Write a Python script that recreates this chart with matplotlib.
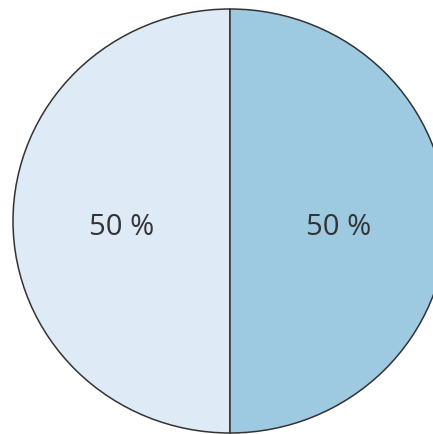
import matplotlib.pyplot as plt

# two equal shares
shares = [50, 50]
colors = ["#deeaf6", "#9ecae1"]

fig = plt.figure(figsize=(4.33, 4.34), dpi=100)
# circle runs past the right edge of the picture
ax = fig.add_axes([13 / 433, 1 / 434, 434 / 433, 424 / 434])

wedges, texts, autotexts = ax.pie(
    shares, colors=colors, startangle=90, counterclock=True,
    autopct="%.0f %%", pctdistance=0.5,
    wedgeprops=dict(edgecolor="#333333", linewidth=1.1),
    textprops=dict(fontsize=21, color="#333333", family="Open Sans"),
)
ax.set_aspect("auto")
ax.set_xlim(-1.0, 1.0)
ax.set_ylim(-1.0, 1.0)
for t in autotexts:
    x, y = t.get_position()
    t.set_position((x, y - 0.03))

fig.savefig("out.png", dpi=100)
